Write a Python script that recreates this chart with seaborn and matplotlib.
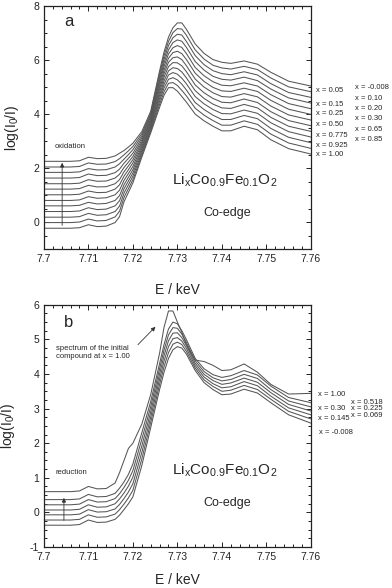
import numpy as np
import pandas as pd
import matplotlib
matplotlib.use('Agg')
import matplotlib.pyplot as plt
from matplotlib.ticker import MultipleLocator, FuncFormatter
import seaborn as sns

# energy grid (keV) shared by all spectra
energy = [7.700, 7.706, 7.708, 7.710, 7.712, 7.714, 7.716, 7.717, 7.718, 7.719,
          7.720, 7.722, 7.724, 7.726, 7.727, 7.728, 7.729, 7.730, 7.731, 7.732,
          7.734, 7.736, 7.738, 7.740, 7.742, 7.745, 7.748, 7.751, 7.755, 7.760]

# panel a : oxidation series, top to bottom
ox_labels = ['-0.008', '0.05', '0.10', '0.15', '0.20', '0.25', '0.30',
             '0.50', '0.65', '0.775', '0.85', '0.925', '1.00']
ox_m0008 = [2.25, 2.25, 2.27, 2.40, 2.35, 2.36, 2.45, 2.55, 2.65, 2.78, 2.92, 3.35, 4.10, 5.60, 6.30,
            6.85, 7.20, 7.38, 7.38, 7.15, 6.60, 6.25, 6.02, 5.92, 5.88, 5.97, 5.85, 5.55, 5.22, 5.04]
ox_005 = [2.04, 2.04, 2.06, 2.19, 2.14, 2.15, 2.24, 2.35, 2.49, 2.64, 2.80, 3.27, 4.03, 5.49, 6.17,
          6.69, 7.02, 7.17, 7.15, 6.93, 6.38, 6.04, 5.81, 5.71, 5.67, 5.77, 5.65, 5.34, 5.01, 4.83]
ox_010 = [1.84, 1.84, 1.86, 1.98, 1.93, 1.94, 2.04, 2.16, 2.33, 2.50, 2.68, 3.19, 3.97, 5.38, 6.03,
          6.54, 6.83, 6.96, 6.93, 6.70, 6.17, 5.83, 5.61, 5.50, 5.46, 5.57, 5.45, 5.13, 4.80, 4.62]
ox_015 = [1.63, 1.63, 1.65, 1.78, 1.72, 1.73, 1.83, 1.96, 2.18, 2.36, 2.55, 3.11, 3.90, 5.26, 5.90,
          6.38, 6.65, 6.75, 6.70, 6.48, 5.95, 5.63, 5.40, 5.29, 5.26, 5.37, 5.24, 4.93, 4.60, 4.41]
ox_020 = [1.42, 1.42, 1.44, 1.57, 1.51, 1.52, 1.63, 1.77, 2.02, 2.22, 2.43, 3.03, 3.83, 5.15, 5.77,
          6.23, 6.46, 6.54, 6.47, 6.25, 5.73, 5.42, 5.20, 5.07, 5.05, 5.16, 5.04, 4.72, 4.39, 4.20]
ox_025 = [1.22, 1.22, 1.24, 1.36, 1.30, 1.31, 1.42, 1.57, 1.86, 2.08, 2.31, 2.95, 3.77, 5.04, 5.63,
          6.07, 6.28, 6.33, 6.24, 6.03, 5.52, 5.21, 4.99, 4.86, 4.84, 4.96, 4.84, 4.51, 4.18, 3.99]
ox_030 = [1.01, 1.01, 1.03, 1.15, 1.09, 1.10, 1.22, 1.38, 1.70, 1.94, 2.19, 2.88, 3.70, 4.93, 5.50,
          5.92, 6.09, 6.12, 6.02, 5.80, 5.30, 5.00, 4.79, 4.65, 4.63, 4.76, 4.64, 4.30, 3.97, 3.78]
ox_050 = [0.80, 0.80, 0.82, 0.94, 0.88, 0.90, 1.01, 1.18, 1.54, 1.80, 2.06, 2.80, 3.63, 4.81, 5.37,
          5.76, 5.91, 5.90, 5.79, 5.58, 5.08, 4.79, 4.58, 4.44, 4.42, 4.56, 4.43, 4.09, 3.76, 3.57]
ox_065 = [0.60, 0.60, 0.62, 0.73, 0.67, 0.69, 0.80, 0.98, 1.38, 1.66, 1.94, 2.72, 3.57, 4.70, 5.23,
          5.60, 5.72, 5.69, 5.56, 5.35, 4.87, 4.58, 4.37, 4.23, 4.21, 4.36, 4.23, 3.88, 3.55, 3.36]
ox_0775 = [0.39, 0.39, 0.41, 0.53, 0.46, 0.48, 0.60, 0.79, 1.23, 1.52, 1.82, 2.64, 3.50, 4.59, 5.10,
           5.45, 5.54, 5.48, 5.33, 5.13, 4.65, 4.38, 4.17, 4.02, 4.01, 4.15, 4.03, 3.68, 3.35, 3.15]
ox_085 = [0.18, 0.18, 0.20, 0.32, 0.25, 0.27, 0.39, 0.59, 1.07, 1.38, 1.70, 2.56, 3.43, 4.48, 4.97,
          5.29, 5.35, 5.27, 5.11, 4.90, 4.43, 4.17, 3.96, 3.80, 3.80, 3.95, 3.83, 3.47, 3.14, 2.94]
ox_0925 = [-0.02, -0.02, 0.00, 0.11, 0.04, 0.06, 0.19, 0.40, 0.91, 1.24, 1.57, 2.48, 3.37, 4.36, 4.83,
           5.14, 5.17, 5.06, 4.88, 4.68, 4.22, 3.96, 3.76, 3.59, 3.59, 3.75, 3.62, 3.26, 2.93, 2.73]
ox_100 = [-0.23, -0.23, -0.21, -0.10, -0.17, -0.15, -0.02, 0.20, 0.75, 1.10, 1.45, 2.40, 3.30, 4.25, 4.70,
          4.98, 4.98, 4.85, 4.65, 4.45, 4.00, 3.75, 3.55, 3.38, 3.38, 3.55, 3.42, 3.05, 2.72, 2.52]
ox_curves = [ox_m0008, ox_005, ox_010, ox_015, ox_020, ox_025, ox_030,
             ox_050, ox_065, ox_0775, ox_085, ox_0925, ox_100]

# label placement for panel a (two columns right of the frame)
ox_col1 = ['0.05', '0.15', '0.25', '0.50', '0.775', '0.925', '1.00']
ox_col1_y = [4.89, 4.37, 4.04, 3.63, 3.22, 2.85, 2.52]
ox_col2 = ['-0.008', '0.10', '0.20', '0.30', '0.65', '0.85']
ox_col2_y = [5.00, 4.59, 4.19, 3.85, 3.44, 3.07]

# panel b : reduction series, top to bottom
red_labels = ['1.00', '0.518', '0.30', '0.225', '0.145', '0.069', '-0.008']
red_100 = [0.60, 0.60, 0.62, 0.75, 0.68, 0.69, 0.85, 1.15, 1.50, 1.85, 2.00, 2.55, 3.40, 4.60, 5.35,
           5.82, 5.82, 5.50, 5.20, 4.85, 4.40, 4.36, 4.25, 4.10, 4.12, 4.29, 4.05, 3.70, 3.42, 3.44]
red_0518 = [0.37, 0.37, 0.39, 0.52, 0.45, 0.46, 0.55, 0.70, 0.88, 1.10, 1.40, 2.30, 3.20, 4.30, 4.85,
            5.30, 5.50, 5.45, 5.25, 5.00, 4.45, 4.15, 3.98, 3.90, 3.95, 4.10, 3.97, 3.65, 3.32, 3.17]
red_030 = [0.22, 0.22, 0.24, 0.37, 0.30, 0.31, 0.40, 0.54, 0.72, 0.93, 1.21, 2.11, 3.05, 4.15, 4.69,
           5.13, 5.34, 5.32, 5.15, 4.92, 4.38, 4.07, 3.89, 3.80, 3.84, 3.99, 3.87, 3.55, 3.22, 3.05]
red_0225 = [0.07, 0.07, 0.09, 0.22, 0.15, 0.16, 0.25, 0.39, 0.56, 0.76, 1.02, 1.92, 2.90, 4.00, 4.53,
            4.96, 5.18, 5.19, 5.05, 4.83, 4.31, 3.99, 3.81, 3.70, 3.74, 3.88, 3.76, 3.46, 3.12, 2.93]
red_0145 = [-0.07, -0.07, -0.05, 0.08, 0.01, 0.02, 0.10, 0.23, 0.40, 0.59, 0.83, 1.73, 2.75, 3.85, 4.37,
            4.79, 5.02, 5.05, 4.95, 4.75, 4.24, 3.91, 3.72, 3.60, 3.63, 3.78, 3.66, 3.36, 3.02, 2.82]
red_0069 = [-0.22, -0.22, -0.20, -0.07, -0.14, -0.13, -0.05, 0.08, 0.24, 0.42, 0.64, 1.54, 2.60, 3.70, 4.21,
            4.62, 4.86, 4.92, 4.85, 4.66, 4.17, 3.83, 3.64, 3.50, 3.53, 3.67, 3.55, 3.27, 2.92, 2.70]
red_m0008 = [-0.37, -0.37, -0.35, -0.22, -0.29, -0.28, -0.20, -0.08, 0.08, 0.25, 0.45, 1.35, 2.45, 3.55, 4.05,
             4.45, 4.70, 4.79, 4.75, 4.58, 4.10, 3.75, 3.55, 3.40, 3.42, 3.56, 3.45, 3.17, 2.82, 2.58]
red_curves = [red_100, red_0518, red_030, red_0225, red_0145, red_0069, red_m0008]

red_col1 = ['1.00', '0.30', '0.145', '-0.008']
red_col1_y = [3.42, 3.01, 2.72, 2.32]
red_col2 = ['0.518', '0.225', '0.069']
red_col2_y = [3.18, 2.99, 2.81]

formula = r'Li$_\mathregular{x}$Co$_\mathregular{0.9}$Fe$_\mathregular{0.1}$O$_\mathregular{2}$'

sns.set_style('ticks')
plt.rcParams['font.family'] = ['Liberation Sans', 'DejaVu Sans']
plt.rcParams['mathtext.fontset'] = 'custom'
plt.rcParams['mathtext.rm'] = 'Liberation Sans'
plt.rcParams['axes.unicode_minus'] = False

def long_frame(curves, labels):
    rows = []
    for lab, vals in zip(labels, curves):
        rows.append(pd.DataFrame({'E': energy, 'A': vals, 'x': lab}))
    return pd.concat(rows, ignore_index=True)

def style_axis(ax, ymin, ymax, ymaj, ymin_step, xpad):
    ax.set_xlim(7.7, 7.76)
    ax.set_ylim(ymin, ymax)
    ax.xaxis.set_major_locator(MultipleLocator(0.01))
    ax.xaxis.set_minor_locator(MultipleLocator(0.002))
    ax.yaxis.set_major_locator(MultipleLocator(ymaj))
    ax.yaxis.set_minor_locator(MultipleLocator(ymin_step))
    ax.xaxis.set_major_formatter(FuncFormatter(lambda v, p: '%g' % round(v, 3)))
    ax.yaxis.set_major_formatter(FuncFormatter(lambda v, p: '%g' % v))
    ax.tick_params(which='both', direction='in', top=True, right=True, width=0.7,
                   labelsize=7.5, colors='#222222')
    ax.tick_params(which='major', length=3.5)
    ax.tick_params(which='minor', length=2)
    for s in ax.spines.values():
        s.set_linewidth(0.9)
        s.set_color('#222222')
    ax.set_xlabel('E / keV', fontsize=10, labelpad=xpad)
    ax.set_ylabel(r'log(I$_\mathregular{0}$/I)', fontsize=10, labelpad=9)

fig = plt.figure(figsize=(3.92, 5.88), dpi=100)
ax1 = fig.add_axes([0.112, 0.5765, 0.681, 0.413])
ax2 = fig.add_axes([0.112, 0.0697, 0.681, 0.412])

line_kw = dict(estimator=None, color='#555555', linewidth=0.75, legend=False, sort=False)

df_ox = long_frame(ox_curves, ox_labels)
sns.lineplot(data=df_ox, x='E', y='A', units='x', ax=ax1, **line_kw)
style_axis(ax1, -1, 8, 2, 0.5, 14)

df_red = long_frame(red_curves, red_labels)
sns.lineplot(data=df_red, x='E', y='A', units='x', ax=ax2, **line_kw)
style_axis(ax2, -1, 6, 1, 0.25, 8)

# panel a annotations
ax1.text(7.7045, 7.25, 'a', fontsize=12)
ax1.text(7.7023, 2.75, 'oxidation', fontsize=5.5)
ax1.annotate('', xy=(7.7041, 2.3), xytext=(7.7041, -0.23),
             arrowprops=dict(arrowstyle='-|>', color='#333333', lw=0.6, mutation_scale=6))
ax1.text(7.7407, 1.56, formula, fontsize=11, ha='center', va='center')
ax1.text(7.7413, 0.33, 'Co-edge', fontsize=9, ha='center', va='center')
for lab, y in zip(ox_col1, ox_col1_y):
    ax1.text(1.021, y, 'x = ' + lab, transform=ax1.get_yaxis_transform(),
             fontsize=5.5, va='center', clip_on=False)
for lab, y in zip(ox_col2, ox_col2_y):
    ax1.text(1.165, y, 'x = ' + lab, transform=ax1.get_yaxis_transform(),
             fontsize=5.5, va='center', clip_on=False)

# panel b annotations
ax2.text(7.7045, 5.35, 'b', fontsize=12)
ax2.text(7.7027, 4.62, 'spectrum of the initial\ncompound at x = 1.00', fontsize=5.5,
         va='center', linespacing=1.1)
ax2.annotate('', xy=(7.7255, 5.42), xytext=(7.7207, 4.79),
             arrowprops=dict(arrowstyle='-|>', color='#333333', lw=0.6, mutation_scale=6))
ax2.text(7.7025, 1.15, 'reduction', fontsize=5.5, va='center')
ax2.annotate('', xy=(7.7045, 0.5), xytext=(7.7045, -0.31),
             arrowprops=dict(arrowstyle='-|>', color='#333333', lw=0.6, mutation_scale=6))
ax2.text(7.7407, 1.23, formula, fontsize=11, ha='center', va='center')
ax2.text(7.7413, 0.27, 'Co-edge', fontsize=9, ha='center', va='center')
for lab, y in zip(red_col1, red_col1_y):
    xx = 1.03 if lab == '-0.008' else 1.025
    ax2.text(xx, y, 'x = ' + lab, transform=ax2.get_yaxis_transform(),
             fontsize=5.5, va='center', clip_on=False)
for lab, y in zip(red_col2, red_col2_y):
    ax2.text(1.149, y, 'x = ' + lab, transform=ax2.get_yaxis_transform(),
             fontsize=5.5, va='center', clip_on=False)

fig.savefig('out.png', dpi=100)
